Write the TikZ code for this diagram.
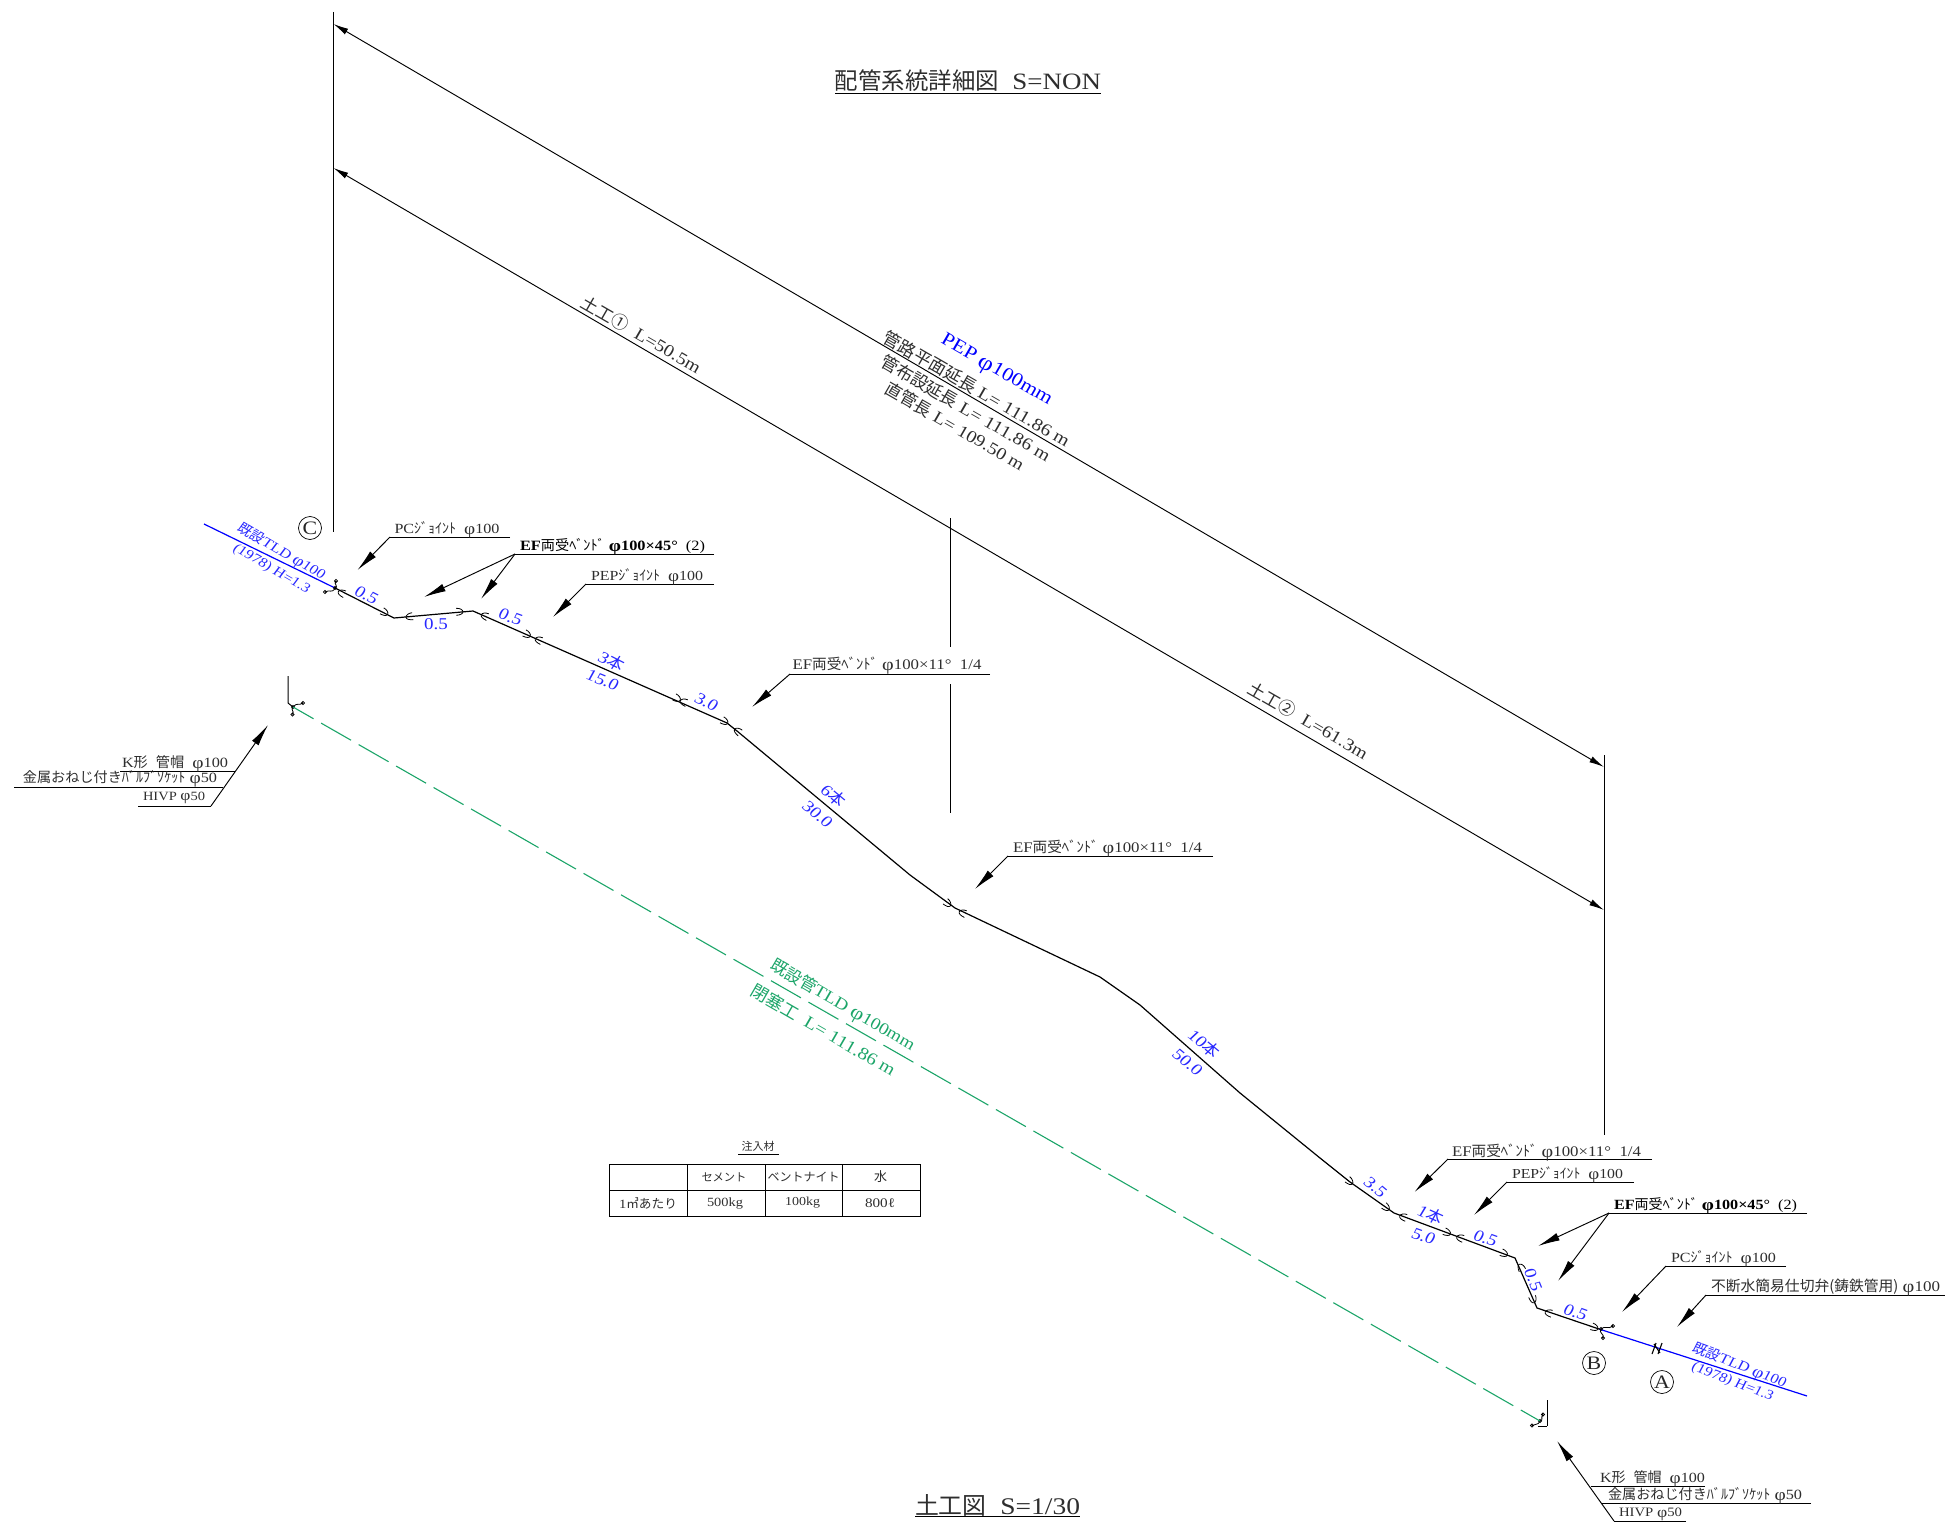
\documentclass[tikz,border=0pt]{standalone}
\usepackage{fontspec}
\usepackage{graphicx}
\usetikzlibrary{arrows.meta}
\setmainfont{Liberation Serif}[FakeStretch=1.15]
\newfontfamily\jp{Noto Sans CJK JP}
\newfontfamily\jps[FakeSlant=0.1]{Noto Sans CJK JP}
\newfontfamily\las[FakeSlant=0.12,FakeStretch=1.15]{Liberation Serif}
\newcommand\J[1]{{\jp\mdseries #1}}
\newcommand\JS[1]{{\jps #1}}
\newcommand\PH{\raisebox{-.06em}{\scalebox{1.2}{φ}}}
\newcommand\WT[2]{\resizebox{#1pt}{!}{\fontsize{14}{16}\selectfont #2}}
\newcommand\BN[1]{{\fontsize{16.5}{20}\selectfont\las #1}}
\definecolor{pipeblue}{RGB}{0,0,255}
\definecolor{labelblue}{RGB}{40,40,255}
\definecolor{fillgreen}{RGB}{28,165,105}
\tikzset{
  x=1pt,y=-1pt,
  lbl/.style={inner sep=0pt,outer sep=0pt,anchor=center,text=black!82},
  bluel/.style={lbl,text=labelblue},
  greenl/.style={lbl,text=fillgreen},
  wire/.style={line width=1pt,black},
  pipeline/.style={line width=1.2pt,black,line join=round},
  leader/.style={line width=.95pt,black,-{Latex[length=22pt,width=8pt]}},
  dimline/.style={line width=.95pt,black,{Latex[length=15pt,width=6.5pt]}-{Latex[length=15pt,width=6.5pt]}},
  bluepipe/.style={line width=1.2pt,pipeblue},
  greenpipe/.style={line width=1.1pt,fillgreen,dash pattern=on 34.5pt off 8.7pt,dash phase=10.8pt},
  circmark/.style={circle,draw,line width=.7pt,minimum size=23pt,inner sep=0pt,text=black!85,font=\fontsize{19}{20}\selectfont},
  thinmark/.style={line width=.8pt,black},
  hkS/.pic={\draw[thinmark] (3.5,-4) .. controls (0,-4) and (-3,-2) .. (-3,0) .. controls (-3,2) and (0,3) .. (4,3);},
  hkE/.pic={\draw[thinmark] (-3.5,-4) .. controls (0,-4) and (3,-2) .. (3,0) .. controls (3,2) and (0,3) .. (-4,3);},
}
\begin{document}
\begin{tikzpicture}
\useasboundingbox (0,0) rectangle (1945,1522);
% titles
\node[lbl] (title1) at (968,81) {\WT{266}{\J{配管系統詳細図}\ \ S=NON}};
\coordinate (t1a) at (835,94); \coordinate (t1b) at (1101,94);
\draw[wire] (t1a) -- (t1b);
\node[lbl] (title2) at (997.5,1505) {\WT{165}{\J{土工図}\ \ S=1/30}};
\coordinate (t2a) at (915,1516); \coordinate (t2b) at (1080,1516);
\draw[wire] (t2a) -- (t2b);
% dimension lines
\coordinate (vl1) at (333.5,12); \coordinate (vl2) at (333.5,532);
\coordinate (vr1) at (1604,755); \coordinate (vr2) at (1604,1135);
\coordinate (vm1) at (950,518); \coordinate (vm2) at (950,647);
\coordinate (vm3) at (950,684); \coordinate (vm4) at (950,813);
\draw[wire] (vl1) -- (vl2);
\draw[wire] (vr1) -- (vr2);
\draw[wire] (vm1) -- (vm2);
\draw[wire] (vm3) -- (vm4);
\coordinate (dA1) at (333.5,24); \coordinate (dA2) at (1604,767);
\coordinate (dB1) at (333.5,168); \coordinate (dB2) at (1604,910);
\draw[dimline] (dA1) -- (dA2);
\draw[dimline] (dB1) -- (dB2);
\node[lbl,rotate=-30,text=blue] (pep) at (996,371) {\WT{125}{PEP \PH 100mm}};
\node[lbl,rotate=-30] (len1) at (977,389) {\WT{212}{\J{管路平面延長} L= 111.86 m}};
\node[lbl,rotate=-30] (len2) at (966,408) {\WT{193}{\J{管布設延長} L= 111.86 m}};
\node[lbl,rotate=-30] (len3) at (955,426) {\WT{158}{\J{直管長} L= 109.50 m}};
\node[lbl,rotate=-30] (dob1) at (641.5,334.5) {\WT{135}{\J{土工①}\ \ L=50.5m}};
\node[lbl,rotate=-30] (dob2) at (1308.5,720.5) {\WT{135}{\J{土工②}\ \ L=61.3m}};
% existing pipes
\coordinate (bl1) at (204,524); \coordinate (bl2) at (335,588);
\coordinate (br1) at (1599,1329); \coordinate (br2) at (1807,1396);
\draw[bluepipe] (bl1) -- (bl2);
\draw[bluepipe] (br1) -- (br2);
\node[bluel,rotate=-30] (tldL1) at (281,552) {\WT{98}{\JS{既設}{\las TLD \PH 100}}};
\node[bluel,rotate=-30] (tldL2) at (271,569) {\WT{86}{{\las (1978) H=1.3}}};
\node[bluel,rotate=-21] (tldR1) at (1739,1366) {\WT{99}{\JS{既設}{\las TLD \PH 100}}};
\node[bluel,rotate=-21] (tldR2) at (1732,1382) {\WT{86}{{\las (1978) H=1.3}}};
% main pipe
\coordinate (p1) at (335,588); \coordinate (p2) at (394,618); \coordinate (p3) at (473,611);
\coordinate (p4) at (727,723); \coordinate (p5) at (737,731); \coordinate (p6) at (910,875);
\coordinate (p7) at (955,908); \coordinate (p8) at (1100,977); \coordinate (p9) at (1140,1005);
\coordinate (p10) at (1240,1093); \coordinate (p11) at (1320,1158); \coordinate (p12) at (1350,1182);
\coordinate (p13) at (1394,1213); \coordinate (p14) at (1515,1258); \coordinate (p15) at (1537,1308);
\coordinate (p16) at (1599,1329);
\draw[pipeline] (p1) -- (p2) -- (p3) -- (p4) -- (p5) -- (p6) -- (p7) -- (p8) -- (p9) -- (p10) -- (p11) -- (p12) -- (p13) -- (p14) -- (p15) -- (p16);
% joint hooks
\pic[rotate=-27] at (341,593) {hkS};
\pic[rotate=-27] at (385,613) {hkE};
\pic[rotate=5] at (409,617) {hkS};
\pic[rotate=5] at (460,612) {hkE};
\pic[rotate=-25] at (484,616) {hkS};
\pic[rotate=-25] at (527.5,635) {hkE};
\pic[rotate=-25] at (538,640) {hkS};
\pic[rotate=-25] at (677.5,699) {hkE};
\pic[rotate=-25] at (683,702) {hkS};
\pic[rotate=-27] at (725,722) {hkE};
\pic[rotate=-40] at (737,731) {hkS};
\pic[rotate=-38] at (948,904) {hkE};
\pic[rotate=-25] at (962,913) {hkS};
\pic[rotate=-38] at (1350,1182) {hkE};
\pic[rotate=-36] at (1386.5,1208) {hkE};
\pic[rotate=-21] at (1402.5,1217) {hkS};
\pic[rotate=-21] at (1447.5,1233) {hkE};
\pic[rotate=-21] at (1459.5,1238) {hkS};
\pic[rotate=-21] at (1504.5,1254) {hkE};
\pic[rotate=-68] at (1520.5,1267) {hkS};
\pic[rotate=-68] at (1533,1300) {hkE};
\pic[rotate=-19] at (1548,1313) {hkS};
\pic[rotate=-19] at (1595,1328) {hkE};
% end curls
\draw[thinmark] (335,588) .. controls (339,586) and (333,584) .. (336,581) circle[radius=1.6];
\draw[thinmark] (335,588) .. controls (332,594) and (330,589) .. (325,592) circle[radius=1.6];
\draw[thinmark] (335,588) circle[radius=1.5];
\draw[thinmark] (1601,1329) .. controls (1605,1325) and (1608,1330) .. (1613,1326) circle[radius=1.6];
\draw[thinmark] (1601,1329) .. controls (1598,1333) and (1605,1334) .. (1603,1338) circle[radius=1.6];
\draw[thinmark] (1601,1329) circle[radius=1.5];
\draw[thinmark] (293,707) .. controls (297,702) and (299,706) .. (303,703) circle[radius=1.6];
\draw[thinmark] (293,707) .. controls (290,710) and (295,711) .. (292.5,714.5) circle[radius=1.6];
\draw[thinmark] (293,707) circle[radius=1.5];
\draw[thinmark] (1540,1421) .. controls (1544,1420) and (1540,1418) .. (1543,1414.5) circle[radius=1.6];
\draw[thinmark] (1540,1421) .. controls (1538,1426) and (1535,1423) .. (1532,1425.5) circle[radius=1.6];
\draw[thinmark] (1540,1421) circle[radius=1.5];
% valve
\draw[line width=1.1pt] (1652,1354) -- (1656,1343) (1658,1354) -- (1662,1343) (1654,1344) -- (1660,1353);
% pipe labels
\node[bluel,rotate=-27] (n1) at (366,595) {\BN{0.5}};
\node[bluel] (n2) at (436,624) {{\fontsize{16.5}{20}\selectfont 0.5}};
\node[bluel,rotate=-20] (n3) at (510,617) {\BN{0.5}};
\node[bluel,rotate=-27] (n4) at (611,661) {\BN{3\JS{本}}};
\node[bluel,rotate=-22] (n5) at (602,680) {\BN{15.0}};
\node[bluel,rotate=-27] (n6) at (706,702) {\BN{3.0}};
\node[bluel,rotate=-40] (n7) at (833,795) {\BN{6\JS{本}}};
\node[bluel,rotate=-40] (n8) at (817,814) {\BN{30.0}};
\node[bluel,rotate=-40] (n9) at (1204,1043) {\BN{10\JS{本}}};
\node[bluel,rotate=-40] (n10) at (1187,1062) {\BN{50.0}};
\node[bluel,rotate=-40] (n11) at (1375,1187) {\BN{3.5}};
\node[bluel,rotate=-24] (n12) at (1430,1214) {\BN{1\JS{本}}};
\node[bluel,rotate=-20] (n13) at (1423,1236) {\BN{5.0}};
\node[bluel,rotate=-20] (n14) at (1485,1238) {\BN{0.5}};
\node[bluel,rotate=-68] (n15) at (1533,1279) {\BN{0.5}};
\node[bluel,rotate=-20] (n16) at (1575,1312) {\BN{0.5}};
% circled letters
\node[circmark] (mC) at (310,528) {C};
\node[circmark] (mB) at (1594,1363) {B};
\node[circmark] (mA) at (1662,1382) {A};
% closed existing pipe
\coordinate (gs0) at (288,676); \coordinate (gs1) at (288,703); \coordinate (g1) at (293,707);
\coordinate (g2) at (1540,1421); \coordinate (ge1) at (1547,1400); \coordinate (ge2) at (1547,1426);
\draw[wire] (gs0) -- (gs1) -- (g1);
\draw[wire] (ge1) -- (ge2);
\draw[thinmark] (ge2) -- (1538,1426);
\draw[greenpipe] (g1) -- (g2);
\node[greenl,rotate=-30] (gr1) at (842.5,1006) {\WT{164}{\J{既設管}TLD \PH 100mm}};
\node[greenl,rotate=-30] (gr2) at (823.5,1030) {\WT{164}{\J{閉塞工}\ \ L= 111.86 m}};
% leaders, left
\coordinate (a1) at (510,537); \coordinate (a2) at (390,537); \coordinate (a3) at (357.5,570);
\draw[wire] (a1) -- (a2); \draw[leader] (a2) -- (a3);
\node[lbl] (la) at (447,530) {\WT{105}{PC\J{ｼﾞｮｲﾝﾄ}\ \ \PH 100}};
\coordinate (b1) at (714,554); \coordinate (b2) at (515,554); \coordinate (b3) at (424,597); \coordinate (b4) at (481,599);
\draw[wire] (b1) -- (b2); \draw[leader] (b2) -- (b3); \draw[leader] (b2) -- (b4);
\node[lbl,text=black] (lb) at (612.5,547) {\WT{185}{\bfseries EF\J{両受ﾍﾞﾝﾄﾞ} \PH 100×45° \mdseries\ (2)}};
\coordinate (c1) at (714,584); \coordinate (c2) at (586,584); \coordinate (c3) at (553,617);
\draw[wire] (c1) -- (c2); \draw[leader] (c2) -- (c3);
\node[lbl] (lc) at (647,577) {\WT{112}{PEP\J{ｼﾞｮｲﾝﾄ}\ \ \PH 100}};
% leaders, middle
\coordinate (d1) at (990,674); \coordinate (d2) at (790,674); \coordinate (d3) at (752,707);
\draw[wire] (d1) -- (d2); \draw[leader] (d2) -- (d3);
\node[lbl] (ld) at (887,666) {\WT{189}{EF\J{両受ﾍﾞﾝﾄﾞ} \PH 100×11°\ \ 1/4}};
\coordinate (e1) at (1213,856); \coordinate (e2) at (1008,856); \coordinate (e3) at (975,889);
\draw[wire] (e1) -- (e2); \draw[leader] (e2) -- (e3);
\node[lbl] (le) at (1107.5,849) {\WT{189}{EF\J{両受ﾍﾞﾝﾄﾞ} \PH 100×11°\ \ 1/4}};
% leaders, right
\coordinate (f1) at (1652,1159); \coordinate (f2) at (1448,1159); \coordinate (f3) at (1414.5,1192);
\draw[wire] (f1) -- (f2); \draw[leader] (f2) -- (f3);
\node[lbl] (lf) at (1546.5,1153) {\WT{189}{EF\J{両受ﾍﾞﾝﾄﾞ} \PH 100×11°\ \ 1/4}};
\coordinate (g5) at (1634,1182); \coordinate (g6) at (1507,1182); \coordinate (g7) at (1474,1215);
\draw[wire] (g5) -- (g6); \draw[leader] (g6) -- (g7);
\node[lbl] (lg) at (1567.5,1175) {\WT{111}{PEP\J{ｼﾞｮｲﾝﾄ}\ \ \PH 100}};
\coordinate (h1) at (1807,1213); \coordinate (h2) at (1609,1213); \coordinate (h3) at (1538,1246); \coordinate (h4) at (1558,1281);
\draw[wire] (h1) -- (h2); \draw[leader] (h2) -- (h3); \draw[leader] (h2) -- (h4);
\node[lbl,text=black] (lh) at (1705.5,1206) {\WT{183}{\bfseries EF\J{両受ﾍﾞﾝﾄﾞ} \PH 100×45° \mdseries\ (2)}};
\coordinate (i1) at (1786,1266); \coordinate (i2) at (1666,1266); \coordinate (i3) at (1622,1312);
\draw[wire] (i1) -- (i2); \draw[leader] (i2) -- (i3);
\node[lbl] (li) at (1723.5,1259) {\WT{105}{PC\J{ｼﾞｮｲﾝﾄ}\ \ \PH 100}};
\coordinate (k1) at (1945,1295); \coordinate (k2) at (1706,1295); \coordinate (k3) at (1677,1327);
\draw[wire] (k1) -- (k2); \draw[leader] (k2) -- (k3);
\node[lbl] (lk) at (1825.5,1288) {\WT{229}{\J{不断水簡易仕切弁(鋳鉄管用)} \PH 100}};
% K cap left
\coordinate (m1) at (120,771); \coordinate (m2) at (235,771);
\coordinate (m3) at (14,787); \coordinate (m4) at (223,787);
\coordinate (m5) at (138,806); \coordinate (m6) at (211,806); \coordinate (m7) at (268,725);
\draw[wire] (m1) -- (m2);
\draw[wire] (m3) -- (m4);
\draw[wire] (m5) -- (m6);
\draw[leader] (m6) -- (m7);
\node[lbl] (lm1) at (175,764) {\WT{106}{K\J{形}\ \ \J{管帽}\ \ \PH 100}};
\node[lbl] (lm2) at (120,779) {\WT{194}{\J{金属おねじ付きﾊﾞﾙﾌﾞｿｹｯﾄ} \PH 50}};
\node[lbl] (lm3) at (174,798) {\WT{62}{HIVP \PH 50}};
% K cap right
\coordinate (r1) at (1705,1486); \coordinate (r2) at (1591,1486);
\coordinate (r3) at (1811,1503); \coordinate (r4) at (1602,1503);
\coordinate (r5) at (1686,1521); \coordinate (r6) at (1614,1521); \coordinate (r7) at (1557,1441);
\draw[wire] (r1) -- (r2);
\draw[wire] (r3) -- (r4);
\draw[wire] (r5) -- (r6);
\draw[leader] (r6) -- (r7);
\node[lbl] (lr1) at (1652.5,1479) {\WT{105}{K\J{形}\ \ \J{管帽}\ \ \PH 100}};
\node[lbl] (lr2) at (1705,1496) {\WT{194}{\J{金属おねじ付きﾊﾞﾙﾌﾞｿｹｯﾄ} \PH 50}};
\node[lbl] (lr3) at (1650.5,1514) {\WT{63}{HIVP \PH 50}};
% table
\node[lbl] (tt) at (758,1146) {\WT{33}{\J{注入材}}};
\coordinate (tu1) at (738,1154); \coordinate (tu2) at (779,1154);
\draw[wire] (tu1) -- (tu2);
\draw[wire] (609.5,1164) rectangle (920,1216);
\draw[wire] (609.5,1190) -- (920,1190);
\draw[wire] (687,1164) -- (687,1216);
\draw[wire] (765,1164) -- (765,1216);
\draw[wire] (842,1164) -- (842,1216);
\node[lbl] (h2t) at (724,1177) {\WT{45}{\J{セメント}}};
\node[lbl] (h3t) at (803.5,1177) {\WT{72}{\J{ベントナイト}}};
\node[lbl] (h4t) at (880.7,1177) {\WT{13}{\J{水}}};
\node[lbl] (r1t) at (648,1203) {\WT{58}{1\J{㎥あたり}}};
\node[lbl] (r2t) at (725,1203) {\WT{36}{500kg}};
\node[lbl] (r3t) at (802.5,1203) {\WT{35}{100kg}};
\node[lbl] (r4t) at (880,1203) {\WT{30}{800ℓ}};
\end{tikzpicture}
\end{document}
